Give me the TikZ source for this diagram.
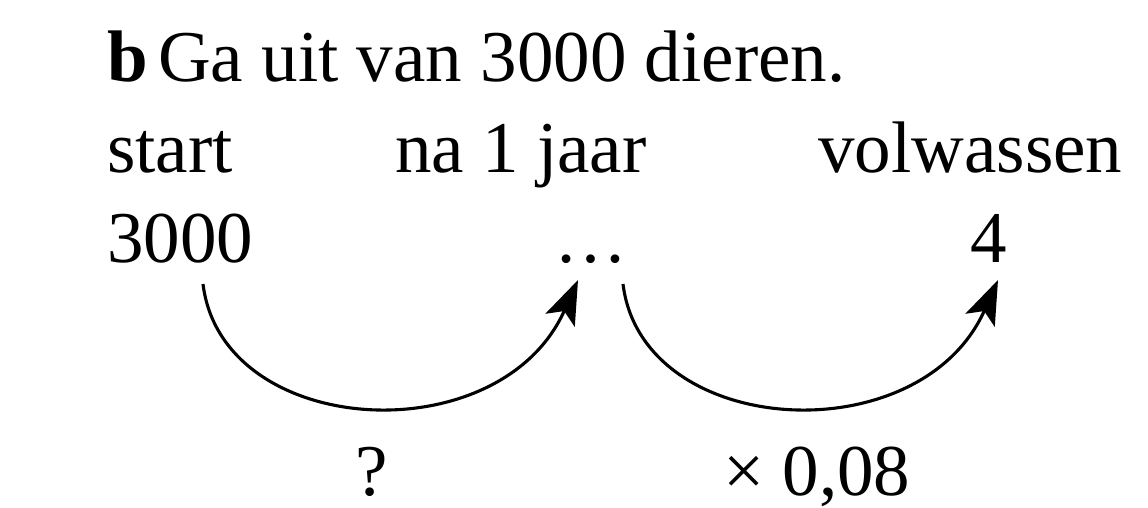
\documentclass[tikz,border=0pt]{standalone}
\usepackage{fontspec}
\setmainfont{Liberation Serif}
\usetikzlibrary{arrows.meta}
\begin{document}
\begin{tikzpicture}[x=1pt,y=-1pt,font=\fontsize{73}{88}\selectfont,
  txt/.style={anchor=base west,inner sep=0pt},
  curvearrow/.style={line width=3.1pt,-{Stealth[length=44pt,width=32pt,inset=10pt]}}]
\useasboundingbox (0,0) rectangle (1148,508);
% opgave
\node[txt] (lbl) at (107,82) {\textbf{b}};
\node[txt] (task) at (158,82) {Ga uit van 3000 dieren.};
% kopjes en aantallen
\foreach \n/\x/\t in {start/107/start,jaar/395/na 1 jaar,volw/818/volwassen}{\node[txt] (\n) at (\x,172) {\t};}
\node[txt] (n0) at (107,262) {3000};
\node[txt] (n1) at (554,262) {…};
\node[txt] (n2) at (970,262) {4};
% pijlen
\coordinate (a0) at (203,284);
\coordinate (a1) at (578,280);
\coordinate (b0) at (623,284);
\coordinate (b1) at (998,280);
\draw[curvearrow] (a0) .. controls +(19,155) and +(-78,175) .. (a1);
\draw[curvearrow] (b0) .. controls +(19,155) and +(-78,175) .. (b1);
\node[txt] (q) at (355,495) {?};
\node[txt] (f) at (723,495) {× 0,08};
\end{tikzpicture}
\end{document}
